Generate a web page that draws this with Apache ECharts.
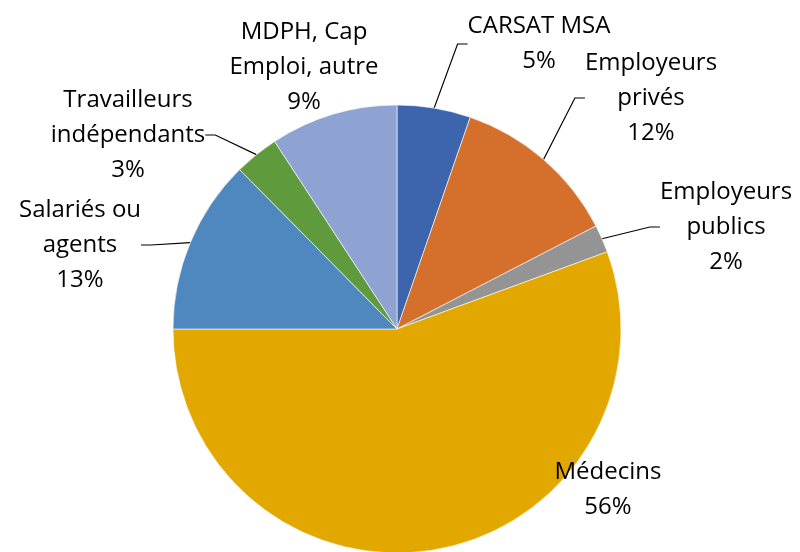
<!DOCTYPE html>
<html>
<head>
<meta charset="utf-8">
<script src="https://cdn.jsdelivr.net/npm/echarts@6/dist/echarts.min.js"></script>
<style>
  html, body { margin: 0; padding: 0; background: #fff; }
  #chart { width: 800px; height: 552px; }
</style>
</head>
<body>
<div id="chart"></div>
<script>
// slices, clockwise from 12 o'clock
const categories = [
  'CARSAT MSA',
  'Employeurs\nprivés',
  'Employeurs\npublics',
  'Médecins',
  'Salariés ou\nagents',
  'Travailleurs\nindépendants',
  'MDPH, Cap\nEmploi, autre',
];
const values = [5.3, 12.1, 2.0, 55.6, 12.6, 3.2, 9.2];
const colors = ['#3C65AE', '#D4702C', '#949494', '#E2A800', '#4F88BE', '#5F9B3D', '#8FA3D3'];
const showLine = [true, true, true, false, true, true, false];

// label block centres (layout only)
const labelPos = [
  [539, 44], [651, 98], [726, 227], [608, 490], [80, 245], [128, 135], [304, 67],
];

const chart = echarts.init(document.getElementById('chart'), null, { renderer: 'canvas' });

chart.setOption({
  animation: false,
  series: [
    {
      type: 'pie',
      center: [397, 329],
      radius: 224,
      startAngle: 90,
      clockwise: true,
      percentPrecision: 0,
      itemStyle: { borderColor: '#fff', borderWidth: 0.6 },
      label: {
        show: true,
        position: 'outside',
        formatter: '{b}\n{d}%',
        fontFamily: 'Open Sans',
        fontSize: 24,
        lineHeight: 35,
        color: '#000',
        align: 'center',
      },
      labelLine: {
        length: 10,
        length2: 10,
        lineStyle: { color: '#000', width: 1.2 },
      },
      labelLayout(params) {
        const p = labelPos[params.dataIndex];
        return { x: p[0], y: p[1], align: 'center', verticalAlign: 'middle' };
      },
      data: categories.map((name, i) => ({
        name,
        value: values[i],
        itemStyle: { color: colors[i] },
        labelLine: { show: showLine[i] },
      })),
    },
  ],
});
</script>
</body>
</html>
